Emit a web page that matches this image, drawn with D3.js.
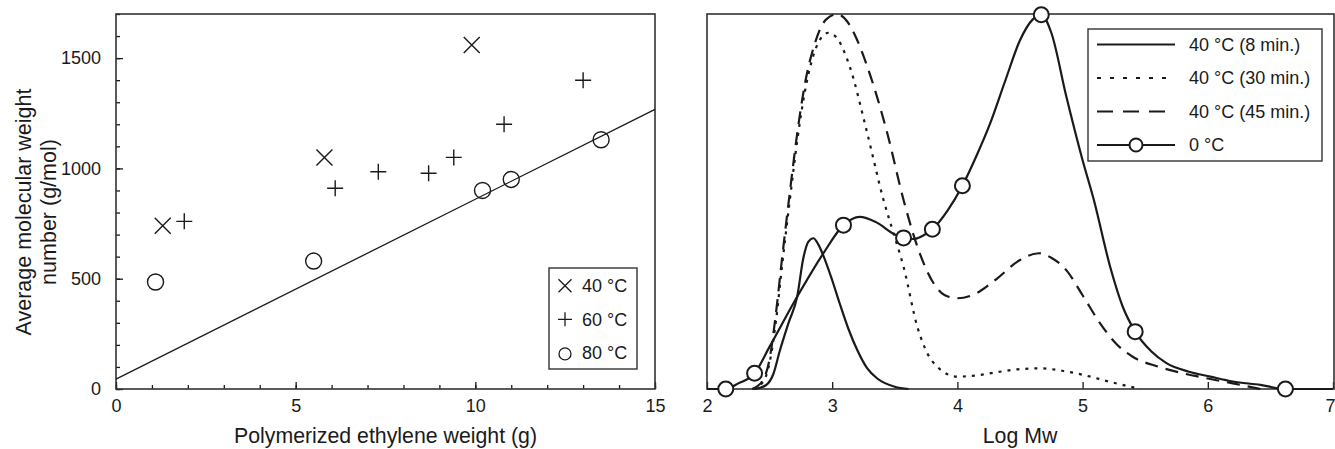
<!DOCTYPE html>
<html>
<head>
<meta charset="utf-8">
<script src="https://cdn.jsdelivr.net/npm/d3@7"></script>
<style>
  body { margin: 0; background: #fff; }
  svg { display: block; font-family: "Liberation Sans", Arial, sans-serif; }
</style>
</head>
<body>
<div class="chart"></div>
<script>
// ---- left panel data: Mn vs polymerized weight ----
const pts40 = [[1.3, 740], [5.8, 1050], [9.9, 1560]];
const pts60 = [[1.9, 760], [6.1, 910], [7.3, 985], [8.7, 978], [9.4, 1050], [10.8, 1200], [13.0, 1400]];
const pts80 = [[1.1, 485], [5.5, 580], [10.2, 900], [11.0, 950], [13.5, 1130]];
const fitLine = [[0, 45], [15, 1268]];
const leftLegend = ["40 °C", "60 °C", "80 °C"];

// ---- right panel data: GPC curves (relative height) ----
const c8min = [[2.38, 0], [2.47, 1], [2.53, 4], [2.58, 10], [2.65, 17.5], [2.72, 24.6], [2.77, 35], [2.81, 39.3],
  [2.85, 40.2], [2.89, 38.5], [2.93, 35.5], [3.0, 29], [3.06, 22.8], [3.13, 16], [3.2, 10.4], [3.28, 5.5],
  [3.36, 2.8], [3.5, 0.6], [3.61, 0]];
const c30min = [[2.37, 0], [2.45, 2], [2.5, 7], [2.55, 18], [2.6, 33], [2.66, 50], [2.72, 66], [2.78, 79],
  [2.85, 89], [2.92, 94], [2.97, 95], [3.05, 93], [3.14, 86], [3.28, 68.2], [3.41, 50.4], [3.49, 41.5],
  [3.57, 32.6], [3.68, 16.6], [3.76, 9.5], [3.84, 5.9], [4.0, 3.3], [4.17, 3.7], [4.34, 4.6], [4.5, 5.3],
  [4.66, 5.5], [4.85, 4.8], [5.0, 3.8], [5.22, 1.9], [5.46, 0]];
const c45min = [[2.36, 0], [2.44, 2], [2.5, 8], [2.55, 20], [2.6, 35], [2.66, 52], [2.72, 68], [2.78, 81],
  [2.86, 92], [2.95, 98.5], [3.04, 100], [3.12, 98], [3.2, 93], [3.28, 86], [3.44, 68.2], [3.57, 50.4],
  [3.68, 38], [3.81, 28.2], [3.9, 25], [4.0, 24.2], [4.15, 25.5], [4.3, 29], [4.5, 34.4], [4.65, 36.2],
  [4.75, 35], [4.87, 31.7], [5.0, 25], [5.14, 17.5], [5.27, 12], [5.4, 8.6], [5.6, 6], [5.8, 4.2],
  [6.0, 2.8], [6.2, 1.5], [6.42, 0]];
const c0deg = [[2.0, 0], [2.15, 0], [2.25, 1.5], [2.38, 4.2], [2.5, 11.3], [2.72, 24.6], [2.93, 36.2],
  [3.09, 43.7], [3.22, 45.9], [3.35, 44.5], [3.5, 41.2], [3.57, 40.3], [3.65, 40], [3.72, 40.8],
  [3.8, 42.6], [3.92, 47.5], [4.04, 54.2], [4.15, 62], [4.26, 70.7], [4.38, 82], [4.5, 93], [4.6, 98.5],
  [4.67, 99.8], [4.75, 95], [4.87, 78], [5.0, 61], [5.09, 50.4], [5.22, 32.6], [5.32, 22], [5.42, 15.3],
  [5.55, 10], [5.67, 6.9], [5.85, 4.6], [6.02, 3.3], [6.2, 2], [6.42, 1.1], [6.62, 0], [7.0, 0]];
const c0degMarks = [[2.15, 0], [2.38, 4.2], [3.09, 43.7], [3.57, 40.3], [3.8, 42.6], [4.04, 54.2],
  [4.67, 99.8], [5.42, 15.3], [6.62, 0]];
const rightLegend = ["40 °C (8 min.)", "40 °C (30 min.)", "40 °C (45 min.)", "0 °C"];

const W = 1335, H = 449;
const ink = "#1a1a1a";
const svg = d3.select(".chart").append("svg").attr("width", W).attr("height", H);

// ================= LEFT PANEL =================
const xL = d3.scaleLinear().domain([0, 15]).range([116, 655]);
const yL = d3.scaleLinear().domain([0, 1700]).range([389, 14]);

const left = svg.append("g");

// minor ticks
left.append("g").attr("transform", "translate(0,389)")
  .call(d3.axisBottom(xL).tickValues(d3.range(0, 16, 1)).tickSize(-4).tickFormat(""))
  .call(g => g.select(".domain").remove());
left.append("g").attr("transform", "translate(116,0)")
  .call(d3.axisLeft(yL).tickValues(d3.range(0, 1701, 100)).tickSize(-4).tickFormat(""))
  .call(g => g.select(".domain").remove());
// major ticks
const xAxL = left.append("g").attr("transform", "translate(0,389)")
  .call(d3.axisBottom(xL).tickValues([0, 5, 10, 15]).tickSize(-7).tickFormat(d3.format("d")));
const yAxL = left.append("g").attr("transform", "translate(116,0)")
  .call(d3.axisLeft(yL).tickValues([0, 500, 1000, 1500]).tickSize(-7).tickPadding(15).tickFormat(d3.format("d")));
[xAxL, yAxL].forEach(a => {
  a.selectAll("text").style("font-size", "18px").attr("fill", ink);
  a.select(".domain").remove();
});
xAxL.selectAll("text").attr("dy", "0.71em").attr("y", 10);
left.selectAll(".tick line").attr("stroke", ink).attr("stroke-width", 1.3);

// box
left.append("rect").attr("x", 116).attr("y", 14).attr("width", 655 - 116).attr("height", 389 - 14)
  .attr("fill", "none").attr("stroke", "#333").attr("stroke-width", 1.6);

// fit line
left.append("path").datum(fitLine)
  .attr("d", d3.line().x(d => xL(d[0])).y(d => yL(d[1])))
  .attr("stroke", ink).attr("stroke-width", 1.3).attr("fill", "none");

function crossPath(s) { return `M${-s},${-s}L${s},${s}M${-s},${s}L${s},${-s}`; }
function plusPath(s) { return `M${-s},0L${s},0M0,${-s}L0,${s}`; }

left.selectAll(".m40").data(pts40).enter().append("path")
  .attr("transform", d => `translate(${xL(d[0])},${yL(d[1])})`)
  .attr("d", crossPath(8)).attr("stroke", ink).attr("stroke-width", 1.4).attr("fill", "none");
left.selectAll(".m60").data(pts60).enter().append("path")
  .attr("transform", d => `translate(${xL(d[0])},${yL(d[1])})`)
  .attr("d", plusPath(8)).attr("stroke", ink).attr("stroke-width", 1.4).attr("fill", "none");
left.selectAll(".m80").data(pts80).enter().append("circle")
  .attr("cx", d => xL(d[0])).attr("cy", d => yL(d[1])).attr("r", 8)
  .attr("stroke", ink).attr("stroke-width", 1.4).attr("fill", "none");

// left legend
const lg = left.append("g");
lg.append("rect").attr("x", 549).attr("y", 268).attr("width", 88).attr("height", 101)
  .attr("fill", "#fff").attr("stroke", "#333").attr("stroke-width", 1.4);
leftLegend.forEach((t, i) => {
  const cy = 285.7 + i * 33.6;
  if (i === 0) lg.append("path").attr("transform", `translate(565,${cy})`).attr("d", crossPath(6.5))
    .attr("stroke", ink).attr("stroke-width", 1.3).attr("fill", "none");
  if (i === 1) lg.append("path").attr("transform", `translate(565,${cy})`).attr("d", plusPath(7))
    .attr("stroke", ink).attr("stroke-width", 1.3).attr("fill", "none");
  if (i === 2) lg.append("circle").attr("cx", 565).attr("cy", cy + 1).attr("r", 6)
    .attr("stroke", ink).attr("stroke-width", 1.3).attr("fill", "none");
  lg.append("text").attr("x", 582).attr("y", cy).attr("dy", "0.35em")
    .style("font-size", "18px").attr("fill", ink).text(t);
});

// titles
left.append("text").attr("x", 385.5).attr("y", 443).attr("text-anchor", "middle")
  .style("font-size", "21.3px").attr("fill", ink).text("Polymerized ethylene weight (g)");
const yt = left.append("text").attr("transform", "translate(0,212) rotate(-90)")
  .attr("text-anchor", "middle").style("font-size", "21.5px").attr("fill", ink);
yt.append("tspan").attr("x", 0).attr("y", 31).text("Average molecular weight");
yt.append("tspan").attr("x", 0).attr("y", 56).text("number (g/mol)");

// ================= RIGHT PANEL =================
const xR = d3.scaleLinear().domain([2, 7]).range([707, 1333]);
const yR = d3.scaleLinear().domain([0, 100]).range([389, 14]);
const right = svg.append("g");

const xAxR = right.append("g").attr("transform", "translate(0,389)")
  .call(d3.axisBottom(xR).ticks(5).tickSize(-7));
xAxR.select(".domain").remove();
xAxR.selectAll("text").style("font-size", "18px").attr("fill", ink).attr("dy", "0.71em").attr("y", 10);
xAxR.selectAll(".tick line").attr("stroke", ink).attr("stroke-width", 1.3);
// last label sits on the window edge; keep it inside
xAxR.selectAll(".tick").filter(d => d === 7).select("text").attr("text-anchor", "end").attr("x", 2);

right.append("rect").attr("x", 707).attr("y", 14).attr("width", 1334 - 707).attr("height", 389 - 14)
  .attr("fill", "none").attr("stroke", "#333").attr("stroke-width", 1.6);

const curve = d3.line().x(d => xR(d[0])).y(d => yR(d[1])).curve(d3.curveMonotoneX);
const series = [
  { data: c8min, dash: null },
  { data: c30min, dash: "3,6" },
  { data: c45min, dash: "13,8" },
  { data: c0deg, dash: null }
];
series.forEach(s => {
  right.append("path").datum(s.data).attr("d", curve)
    .attr("fill", "none").attr("stroke", ink).attr("stroke-width", 2.2)
    .attr("stroke-dasharray", s.dash);
});
right.selectAll(".mk").data(c0degMarks).enter().append("circle")
  .attr("cx", d => xR(d[0])).attr("cy", d => yR(d[1])).attr("r", 7.5)
  .attr("fill", "#fff").attr("stroke", ink).attr("stroke-width", 2);

// right legend
const rg = right.append("g");
rg.append("rect").attr("x", 1088).attr("y", 29).attr("width", 234).attr("height", 132)
  .attr("fill", "#fff").attr("stroke", "#333").attr("stroke-width", 1.4);
rightLegend.forEach((t, i) => {
  const cy = 44.5 + i * 33.5;
  rg.append("line").attr("x1", 1097).attr("x2", 1175).attr("y1", cy).attr("y2", cy)
    .attr("stroke", ink).attr("stroke-width", 2)
    .attr("stroke-dasharray", i === 1 ? "4,9" : i === 2 ? "16,10" : null);
  if (i === 3) rg.append("circle").attr("cx", 1136).attr("cy", cy).attr("r", 6.5)
    .attr("fill", "#fff").attr("stroke", ink).attr("stroke-width", 2);
  rg.append("text").attr("x", 1189).attr("y", cy).attr("dy", "0.35em")
    .style("font-size", "18px").attr("fill", ink).text(t);
});

right.append("text").attr("x", 1020).attr("y", 443).attr("text-anchor", "middle")
  .style("font-size", "21.3px").attr("fill", ink).text("Log Mw");
</script>
</body>
</html>
